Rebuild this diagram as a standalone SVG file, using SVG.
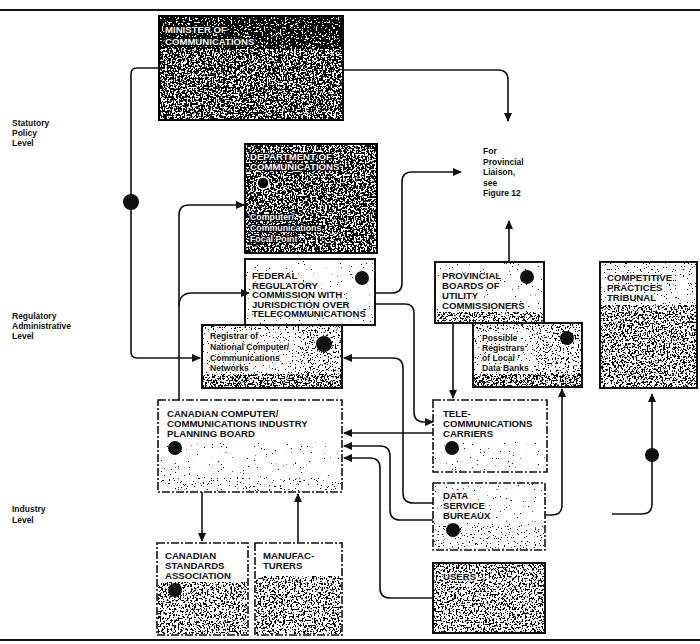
<svg xmlns="http://www.w3.org/2000/svg" width="700" height="644" viewBox="0 0 700 644">
<defs>
<style>
.t{font-family:"Liberation Sans",Arial,sans-serif;font-weight:bold;font-size:9.6px;fill:#111}
.tw{font-family:"Liberation Sans",Arial,sans-serif;font-weight:bold;font-size:9.6px;fill:#fff;stroke:#000;stroke-width:2.4px;paint-order:stroke;stroke-linejoin:round}
.sw{font-family:"Liberation Sans",Arial,sans-serif;font-weight:bold;font-size:8.8px;fill:#fff;stroke:#000;stroke-width:2.4px;paint-order:stroke;stroke-linejoin:round}
.s{font-family:"Liberation Sans",Arial,sans-serif;font-weight:bold;font-size:8.6px;fill:#111;stroke:#fff;stroke-width:2px;paint-order:stroke;stroke-linejoin:round}
.tb{font-family:"Liberation Sans",Arial,sans-serif;font-weight:bold;font-size:9.6px;fill:#111;stroke:#fff;stroke-width:1.6px;paint-order:stroke;stroke-linejoin:round}
.lv{font-family:"Liberation Sans",Arial,sans-serif;font-weight:bold;font-size:8.5px;fill:#111}
.box{fill:#fff;stroke:#111;stroke-width:2}
.dbox{fill:#050505;stroke:#000;stroke-width:2}
.lbox{fill:#fff;stroke:#111;stroke-width:1.6;stroke-dasharray:8 2 2 2}
.c{fill:none;stroke:#111;stroke-width:1.6}
.dot{fill:#111}
</style>
<marker id="a" markerUnits="userSpaceOnUse" markerWidth="9" markerHeight="8" refX="8" refY="4" orient="auto"><path d="M0,0 L9,4 L0,8 z" fill="#111"/></marker>
<filter id="w45" x="0" y="0" width="1" height="1" color-interpolation-filters="sRGB">
<feTurbulence type="fractalNoise" baseFrequency="0.55" numOctaves="2" seed="4"/>
<feColorMatrix type="matrix" values="0 0 0 0 1  0 0 0 0 1  0 0 0 0 1  -30 0 0 0 14.6"/>
<feComposite in2="SourceGraphic" operator="in"/>
</filter>
<filter id="w20" x="0" y="0" width="1" height="1" color-interpolation-filters="sRGB">
<feTurbulence type="fractalNoise" baseFrequency="0.55" numOctaves="2" seed="4"/>
<feColorMatrix type="matrix" values="0 0 0 0 1  0 0 0 0 1  0 0 0 0 1  -30 0 0 0 12.2"/>
<feComposite in2="SourceGraphic" operator="in"/>
</filter>
<filter id="n40" x="0" y="0" width="1" height="1" color-interpolation-filters="sRGB">
<feTurbulence type="fractalNoise" baseFrequency="0.55" numOctaves="2" seed="9"/>
<feColorMatrix type="matrix" values="0 0 0 0 0  0 0 0 0 0  0 0 0 0 0  30 0 0 0 -16.2"/>
<feComposite in2="SourceGraphic" operator="in"/>
</filter>
<filter id="n30" x="0" y="0" width="1" height="1" color-interpolation-filters="sRGB">
<feTurbulence type="fractalNoise" baseFrequency="0.6" numOctaves="2" seed="12"/>
<feColorMatrix type="matrix" values="0 0 0 0 0  0 0 0 0 0  0 0 0 0 0  30 0 0 0 -18"/>
<feComposite in2="SourceGraphic" operator="in"/>
</filter>
<filter id="n15" x="0" y="0" width="1" height="1" color-interpolation-filters="sRGB">
<feTurbulence type="fractalNoise" baseFrequency="0.65" numOctaves="2" seed="21"/>
<feColorMatrix type="matrix" values="0 0 0 0 0  0 0 0 0 0  0 0 0 0 0  30 0 0 0 -20.4"/>
<feComposite in2="SourceGraphic" operator="in"/>
</filter>
<filter id="n05" x="0" y="0" width="1" height="1" color-interpolation-filters="sRGB">
<feTurbulence type="fractalNoise" baseFrequency="0.65" numOctaves="2" seed="33"/>
<feColorMatrix type="matrix" values="0 0 0 0 0  0 0 0 0 0  0 0 0 0 0  30 0 0 0 -22.2"/>
<feComposite in2="SourceGraphic" operator="in"/>
</filter>
</defs>
<rect x="0" y="0" width="700" height="644" fill="#fff"/>
<line x1="0" y1="10" x2="700" y2="10" stroke="#111" stroke-width="2"/>
<line x1="0" y1="640" x2="700" y2="640" stroke="#111" stroke-width="2"/>

<g id="level-labels">
<text class="lv" x="12" y="126">Statutory</text>
<text class="lv" x="12" y="136">Policy</text>
<text class="lv" x="12" y="146">Level</text>
<text class="lv" x="12" y="319">Regulatory</text>
<text class="lv" x="12" y="329">Administrative</text>
<text class="lv" x="12" y="339">Level</text>
<text class="lv" x="12" y="512">Industry</text>
<text class="lv" x="12" y="523">Level</text>
</g>

<g id="minister">
<rect class="dbox" x="159" y="16" width="184" height="104"/>
<rect x="160" y="17" width="182" height="32" filter="url(#w20)"/>
<rect x="160" y="49" width="182" height="70" filter="url(#w45)"/>
<text class="tw" x="165" y="33">MINISTER OF</text>
<text class="tw" x="165" y="45">COMMUNICATIONS</text>
</g>

<g id="department">
<rect class="dbox" x="245" y="144" width="132" height="109"/>
<rect x="246" y="145" width="130" height="107" filter="url(#w45)"/>
<rect x="246" y="149" width="110" height="24" filter="url(#w20)"/>
<rect x="246" y="210" width="90" height="35" filter="url(#w20)"/>
<text class="tw" x="250" y="160">DEPARTMENT OF</text>
<text class="tw" x="250" y="170">COMMUNICATIONS</text>
<circle cx="263" cy="183" r="6" fill="#000" stroke="#fff" stroke-width="1.5"/>
<text class="sw" x="250" y="220">Computer/</text>
<text class="sw" x="250" y="231">Communications</text>
<text class="sw" x="250" y="242">Focal Point</text>
</g>

<g id="registrar">
<rect class="box" x="202" y="325" width="140" height="63"/>
<rect x="203" y="326" width="138" height="61" filter="url(#n30)"/>
<rect x="203" y="330" width="95" height="44" fill="#fff"/>
<rect x="203" y="330" width="95" height="44" filter="url(#n15)"/>
<rect x="203" y="374" width="138" height="13" filter="url(#n40)"/>
<text class="s" x="210" y="339">Registrar of</text>
<text class="s" x="210" y="350">National Computer/</text>
<text class="s" x="210" y="361">Communications</text>
<text class="s" x="210" y="371">Networks</text>
<circle class="dot" cx="324" cy="344" r="8"/>
</g>

<g id="federal">
<rect class="box" x="245" y="259" width="130" height="66"/>
<rect x="246" y="260" width="128" height="64" filter="url(#n05)"/>
<text class="tb" x="252" y="279">FEDERAL</text>
<text class="tb" x="252" y="288.5">REGULATORY</text>
<text class="tb" x="252" y="298">COMMISSION WITH</text>
<text class="tb" x="252" y="307.5">JURISDICTION OVER</text>
<text class="tb" x="252" y="317">TELECOMMUNICATIONS</text>
<circle class="dot" cx="362" cy="278" r="7"/>
</g>

<g id="provincial">
<rect class="box" x="435" y="262" width="109" height="61"/>
<rect x="436" y="263" width="107" height="59" filter="url(#n05)"/>
<rect x="436" y="312" width="107" height="10" filter="url(#n40)"/>
<text class="tb" x="442" y="279">PROVINCIAL</text>
<text class="tb" x="442" y="289">BOARDS OF</text>
<text class="tb" x="442" y="299">UTILITY</text>
<text class="tb" x="442" y="309">COMMISSIONERS</text>
<circle class="dot" cx="527" cy="277" r="7"/>
</g>

<g id="possible-registrars">
<rect class="box" x="473" y="323" width="109" height="64"/>
<rect x="474" y="324" width="107" height="62" filter="url(#n30)"/>
<rect x="474" y="331" width="62" height="43" fill="#fff"/>
<rect x="474" y="331" width="62" height="43" filter="url(#n15)"/>
<rect x="474" y="374" width="107" height="12" filter="url(#n40)"/>
<text class="s" x="482" y="341">Possible</text>
<text class="s" x="482" y="351">Registrars</text>
<text class="s" x="482" y="361">of Local</text>
<text class="s" x="482" y="371">Data Banks</text>
<circle class="dot" cx="567" cy="338" r="7"/>
</g>

<g id="competitive">
<rect class="box" x="600" y="262" width="97" height="126"/>
<rect x="601" y="263" width="95" height="124" filter="url(#n15)"/>
<rect x="601" y="305" width="95" height="82" filter="url(#n40)"/>
<text class="tb" x="607" y="281">COMPETITIVE</text>
<text class="tb" x="607" y="291">PRACTICES</text>
<text class="tb" x="607" y="301">TRIBUNAL</text>
</g>

<g id="liaison">
<text class="lv" x="483" y="154">For</text>
<text class="lv" x="483" y="164.5">Provincial</text>
<text class="lv" x="483" y="175">Liaison,</text>
<text class="lv" x="483" y="185.5">see</text>
<text class="lv" x="483" y="196">Figure 12</text>
</g>

<g id="planning-board">
<rect class="lbox" x="158" y="400" width="184" height="92"/>
<rect x="159" y="442" width="182" height="49" filter="url(#n05)"/>
<rect x="159" y="478" width="182" height="13" filter="url(#n15)"/>
<text class="t" x="167" y="417">CANADIAN COMPUTER/</text>
<text class="t" x="167" y="427">COMMUNICATIONS INDUSTRY</text>
<text class="t" x="167" y="437">PLANNING BOARD</text>
<circle class="dot" cx="175" cy="448" r="7"/>
</g>

<g id="telecom-carriers">
<rect class="lbox" x="433" y="400" width="114" height="72"/>
<rect x="434" y="442" width="112" height="29" filter="url(#n05)"/>
<text class="t" x="443" y="417">TELE-</text>
<text class="t" x="443" y="427">COMMUNICATIONS</text>
<text class="t" x="443" y="437">CARRIERS</text>
<circle class="dot" cx="452" cy="448" r="7"/>
</g>

<g id="data-service">
<rect class="lbox" x="433" y="483" width="112" height="67"/>
<rect x="434" y="484" width="110" height="65" filter="url(#n05)"/>
<rect x="434" y="524" width="110" height="25" filter="url(#n15)"/>
<text class="tb" x="443" y="499">DATA</text>
<text class="tb" x="443" y="509">SERVICE</text>
<text class="tb" x="443" y="519">BUREAUX</text>
<circle class="dot" cx="453" cy="530" r="7"/>
</g>

<g id="users">
<rect class="box" x="433" y="563" width="112" height="70"/>
<rect x="434" y="564" width="110" height="68" filter="url(#n40)"/>
<text class="tb" x="443" y="580">USERS</text>
</g>

<g id="standards">
<rect class="lbox" x="157" y="543" width="91" height="92"/>
<rect x="158" y="582" width="89" height="52" filter="url(#n40)"/>
<text class="t" x="165" y="559">CANADIAN</text>
<text class="t" x="165" y="569">STANDARDS</text>
<text class="t" x="165" y="579">ASSOCIATION</text>
<circle class="dot" cx="175" cy="590" r="7"/>
</g>

<g id="manufacturers">
<rect class="lbox" x="255" y="543" width="87" height="92"/>
<rect x="256" y="576" width="85" height="58" filter="url(#n40)"/>
<text class="t" x="263" y="559">MANUFAC-</text>
<text class="t" x="263" y="569">TURERS</text>
</g>

<g id="connectors">
<path class="c" d="M159,68 H137 Q131,68 131,74 V352 Q131,358 137,358 H200" marker-end="url(#a)"/>
<circle class="dot" cx="131" cy="202" r="8"/>
<path class="c" d="M343,70 H498 Q508,70 508,80 V121" marker-end="url(#a)"/>
<path class="c" d="M179,400 V215 Q179,205 189,205 H244" marker-end="url(#a)"/>
<path class="c" d="M179,306 Q179,293 192,293 H249" marker-end="url(#a)"/>
<path class="c" d="M375,293 H392 Q402,293 402,283 V182 Q402,172 412,172 H461" marker-end="url(#a)"/>
<path class="c" d="M375,304 H405 Q414,304 414,313 V412 Q414,422 424,422 H433" marker-end="url(#a)"/>
<path class="c" d="M433,503 H413 Q403,503 403,493 V368 Q403,358 393,358 H344" marker-end="url(#a)"/>
<path class="c" d="M433,433 H344" marker-end="url(#a)"/>
<path class="c" d="M433,520 H400 Q390,520 390,510 V456 Q390,446 380,446 H344" marker-end="url(#a)"/>
<path class="c" d="M433,598 H390 Q380,598 380,588 V468 Q380,458 370,458 H344" marker-end="url(#a)"/>
<path class="c" d="M509,262 V221" marker-end="url(#a)"/>
<path class="c" d="M453,323 V398" marker-end="url(#a)"/>
<path class="c" d="M545,515 H552 Q562,515 562,505 V389" marker-end="url(#a)"/>
<path class="c" d="M612,514 H642 Q652,514 652,504 V394" marker-end="url(#a)"/>
<circle class="dot" cx="652" cy="455" r="7"/>
<path class="c" d="M202,492 V541" marker-end="url(#a)"/>
<path class="c" d="M298,543 V494" marker-end="url(#a)"/>
</g>
</svg>
